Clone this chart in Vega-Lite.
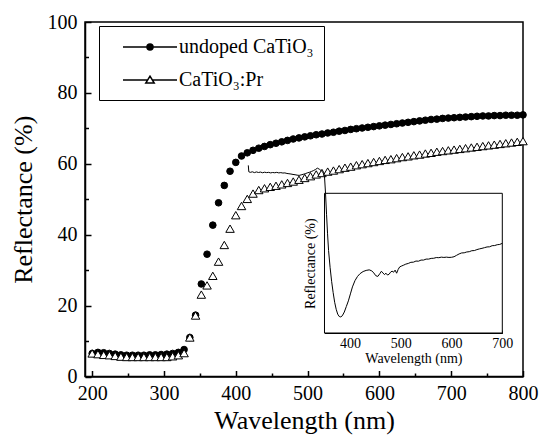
{
  "$schema": "https://vega.github.io/schema/vega-lite/v6.json",
  "width": 438,
  "height": 354.5,
  "autosize": {"type": "none"},
  "padding": {"left": 85, "top": 22, "right": 18, "bottom": 60.5},
  "config": {
    "view": {"stroke": "black", "strokeWidth": 1.5}
  },
  "datasets": {
    "main": [
      {"w":200,"r":6.5,"s":"undoped CaTiO₃"},{"w":208,"r":6.8,"s":"undoped CaTiO₃"},{"w":216,"r":6.7,"s":"undoped CaTiO₃"},{"w":224,"r":6.5,"s":"undoped CaTiO₃"},{"w":232,"r":6.3,"s":"undoped CaTiO₃"},{"w":240,"r":6.1,"s":"undoped CaTiO₃"},{"w":248,"r":6.0,"s":"undoped CaTiO₃"},{"w":256,"r":6.0,"s":"undoped CaTiO₃"},{"w":264,"r":6.0,"s":"undoped CaTiO₃"},{"w":272,"r":6.0,"s":"undoped CaTiO₃"},{"w":280,"r":6.1,"s":"undoped CaTiO₃"},{"w":288,"r":6.1,"s":"undoped CaTiO₃"},{"w":296,"r":6.2,"s":"undoped CaTiO₃"},{"w":304,"r":6.3,"s":"undoped CaTiO₃"},{"w":312,"r":6.5,"s":"undoped CaTiO₃"},{"w":320,"r":6.8,"s":"undoped CaTiO₃"},{"w":328,"r":7.6,"s":"undoped CaTiO₃"},{"w":336,"r":11.0,"s":"undoped CaTiO₃"},{"w":344,"r":17.3,"s":"undoped CaTiO₃"},{"w":352,"r":26.1,"s":"undoped CaTiO₃"},{"w":360,"r":34.5,"s":"undoped CaTiO₃"},{"w":368,"r":42.7,"s":"undoped CaTiO₃"},{"w":376,"r":49.0,"s":"undoped CaTiO₃"},{"w":384,"r":53.9,"s":"undoped CaTiO₃"},{"w":392,"r":57.9,"s":"undoped CaTiO₃"},{"w":400,"r":60.4,"s":"undoped CaTiO₃"},{"w":408,"r":62.2,"s":"undoped CaTiO₃"},{"w":416,"r":63.1,"s":"undoped CaTiO₃"},{"w":424,"r":63.8,"s":"undoped CaTiO₃"},{"w":432,"r":64.4,"s":"undoped CaTiO₃"},{"w":440,"r":64.9,"s":"undoped CaTiO₃"},{"w":448,"r":65.4,"s":"undoped CaTiO₃"},{"w":456,"r":65.8,"s":"undoped CaTiO₃"},{"w":464,"r":66.2,"s":"undoped CaTiO₃"},{"w":472,"r":66.6,"s":"undoped CaTiO₃"},{"w":480,"r":67.0,"s":"undoped CaTiO₃"},{"w":488,"r":67.3,"s":"undoped CaTiO₃"},{"w":496,"r":67.6,"s":"undoped CaTiO₃"},{"w":504,"r":67.9,"s":"undoped CaTiO₃"},{"w":512,"r":68.2,"s":"undoped CaTiO₃"},{"w":520,"r":68.4,"s":"undoped CaTiO₃"},{"w":528,"r":68.7,"s":"undoped CaTiO₃"},{"w":536,"r":68.9,"s":"undoped CaTiO₃"},{"w":544,"r":69.2,"s":"undoped CaTiO₃"},{"w":552,"r":69.4,"s":"undoped CaTiO₃"},{"w":560,"r":69.7,"s":"undoped CaTiO₃"},{"w":568,"r":69.9,"s":"undoped CaTiO₃"},{"w":576,"r":70.1,"s":"undoped CaTiO₃"},{"w":584,"r":70.3,"s":"undoped CaTiO₃"},{"w":592,"r":70.5,"s":"undoped CaTiO₃"},{"w":600,"r":70.7,"s":"undoped CaTiO₃"},{"w":608,"r":70.9,"s":"undoped CaTiO₃"},{"w":616,"r":71.1,"s":"undoped CaTiO₃"},{"w":624,"r":71.3,"s":"undoped CaTiO₃"},{"w":632,"r":71.5,"s":"undoped CaTiO₃"},{"w":640,"r":71.7,"s":"undoped CaTiO₃"},{"w":648,"r":71.9,"s":"undoped CaTiO₃"},{"w":656,"r":72.1,"s":"undoped CaTiO₃"},{"w":664,"r":72.3,"s":"undoped CaTiO₃"},{"w":672,"r":72.5,"s":"undoped CaTiO₃"},{"w":680,"r":72.6,"s":"undoped CaTiO₃"},{"w":688,"r":72.8,"s":"undoped CaTiO₃"},{"w":696,"r":72.9,"s":"undoped CaTiO₃"},{"w":704,"r":73.0,"s":"undoped CaTiO₃"},{"w":712,"r":73.1,"s":"undoped CaTiO₃"},{"w":720,"r":73.2,"s":"undoped CaTiO₃"},{"w":728,"r":73.3,"s":"undoped CaTiO₃"},{"w":736,"r":73.4,"s":"undoped CaTiO₃"},{"w":744,"r":73.5,"s":"undoped CaTiO₃"},{"w":752,"r":73.5,"s":"undoped CaTiO₃"},{"w":760,"r":73.6,"s":"undoped CaTiO₃"},{"w":768,"r":73.6,"s":"undoped CaTiO₃"},{"w":776,"r":73.7,"s":"undoped CaTiO₃"},{"w":784,"r":73.7,"s":"undoped CaTiO₃"},{"w":792,"r":73.7,"s":"undoped CaTiO₃"},{"w":800,"r":73.8,"s":"undoped CaTiO₃"},
      {"w":200,"r":6.5,"s":"CaTiO₃:Pr"},{"w":208,"r":6.3,"s":"CaTiO₃:Pr"},{"w":216,"r":6.1,"s":"CaTiO₃:Pr"},{"w":224,"r":6.0,"s":"CaTiO₃:Pr"},{"w":232,"r":5.8,"s":"CaTiO₃:Pr"},{"w":240,"r":5.6,"s":"CaTiO₃:Pr"},{"w":248,"r":5.5,"s":"CaTiO₃:Pr"},{"w":256,"r":5.5,"s":"CaTiO₃:Pr"},{"w":264,"r":5.5,"s":"CaTiO₃:Pr"},{"w":272,"r":5.5,"s":"CaTiO₃:Pr"},{"w":280,"r":5.5,"s":"CaTiO₃:Pr"},{"w":288,"r":5.5,"s":"CaTiO₃:Pr"},{"w":296,"r":5.5,"s":"CaTiO₃:Pr"},{"w":304,"r":5.5,"s":"CaTiO₃:Pr"},{"w":312,"r":5.7,"s":"CaTiO₃:Pr"},{"w":320,"r":6.0,"s":"CaTiO₃:Pr"},{"w":328,"r":6.6,"s":"CaTiO₃:Pr"},{"w":336,"r":11.0,"s":"CaTiO₃:Pr"},{"w":344,"r":17.2,"s":"CaTiO₃:Pr"},{"w":352,"r":23.1,"s":"CaTiO₃:Pr"},{"w":360,"r":25.7,"s":"CaTiO₃:Pr"},{"w":368,"r":28.4,"s":"CaTiO₃:Pr"},{"w":376,"r":32.4,"s":"CaTiO₃:Pr"},{"w":384,"r":37.1,"s":"CaTiO₃:Pr"},{"w":392,"r":41.7,"s":"CaTiO₃:Pr"},{"w":400,"r":45.5,"s":"CaTiO₃:Pr"},{"w":408,"r":48.1,"s":"CaTiO₃:Pr"},{"w":416,"r":50.1,"s":"CaTiO₃:Pr"},{"w":424,"r":51.6,"s":"CaTiO₃:Pr"},{"w":432,"r":52.6,"s":"CaTiO₃:Pr"},{"w":440,"r":53.1,"s":"CaTiO₃:Pr"},{"w":448,"r":53.5,"s":"CaTiO₃:Pr"},{"w":456,"r":53.8,"s":"CaTiO₃:Pr"},{"w":464,"r":54.2,"s":"CaTiO₃:Pr"},{"w":472,"r":54.6,"s":"CaTiO₃:Pr"},{"w":480,"r":55.0,"s":"CaTiO₃:Pr"},{"w":488,"r":55.5,"s":"CaTiO₃:Pr"},{"w":496,"r":56.0,"s":"CaTiO₃:Pr"},{"w":504,"r":56.5,"s":"CaTiO₃:Pr"},{"w":512,"r":57.0,"s":"CaTiO₃:Pr"},{"w":520,"r":57.4,"s":"CaTiO₃:Pr"},{"w":528,"r":57.8,"s":"CaTiO₃:Pr"},{"w":536,"r":58.1,"s":"CaTiO₃:Pr"},{"w":544,"r":58.5,"s":"CaTiO₃:Pr"},{"w":552,"r":58.9,"s":"CaTiO₃:Pr"},{"w":560,"r":59.2,"s":"CaTiO₃:Pr"},{"w":568,"r":59.6,"s":"CaTiO₃:Pr"},{"w":576,"r":59.9,"s":"CaTiO₃:Pr"},{"w":584,"r":60.2,"s":"CaTiO₃:Pr"},{"w":592,"r":60.5,"s":"CaTiO₃:Pr"},{"w":600,"r":60.8,"s":"CaTiO₃:Pr"},{"w":608,"r":61.1,"s":"CaTiO₃:Pr"},{"w":616,"r":61.3,"s":"CaTiO₃:Pr"},{"w":624,"r":61.6,"s":"CaTiO₃:Pr"},{"w":632,"r":61.9,"s":"CaTiO₃:Pr"},{"w":640,"r":62.1,"s":"CaTiO₃:Pr"},{"w":648,"r":62.4,"s":"CaTiO₃:Pr"},{"w":656,"r":62.6,"s":"CaTiO₃:Pr"},{"w":664,"r":62.9,"s":"CaTiO₃:Pr"},{"w":672,"r":63.1,"s":"CaTiO₃:Pr"},{"w":680,"r":63.4,"s":"CaTiO₃:Pr"},{"w":688,"r":63.6,"s":"CaTiO₃:Pr"},{"w":696,"r":63.8,"s":"CaTiO₃:Pr"},{"w":704,"r":64.0,"s":"CaTiO₃:Pr"},{"w":712,"r":64.2,"s":"CaTiO₃:Pr"},{"w":720,"r":64.4,"s":"CaTiO₃:Pr"},{"w":728,"r":64.6,"s":"CaTiO₃:Pr"},{"w":736,"r":64.8,"s":"CaTiO₃:Pr"},{"w":744,"r":65.0,"s":"CaTiO₃:Pr"},{"w":752,"r":65.2,"s":"CaTiO₃:Pr"},{"w":760,"r":65.4,"s":"CaTiO₃:Pr"},{"w":768,"r":65.6,"s":"CaTiO₃:Pr"},{"w":776,"r":65.8,"s":"CaTiO₃:Pr"},{"w":784,"r":66.0,"s":"CaTiO₃:Pr"},{"w":792,"r":66.2,"s":"CaTiO₃:Pr"},{"w":800,"r":66.4,"s":"CaTiO₃:Pr"}
    ],
    "inset": [
      {"w":200,"v":120},{"w":201,"v":115.4},{"w":204,"v":115.0},{"w":208,"v":115.4},{"w":212,"v":114.8},{"w":216,"v":115.3},{"w":220,"v":114.9},{"w":224,"v":115.2},{"w":228,"v":114.7},{"w":232,"v":115.1},{"w":236,"v":114.8},{"w":240,"v":115.0},{"w":244,"v":114.6},{"w":248,"v":114.9},{"w":252,"v":114.7},{"w":256,"v":115.0},{"w":260,"v":114.6},{"w":264,"v":114.8},{"w":268,"v":114.5},{"w":272,"v":114.6},{"w":276,"v":114.2},{"w":280,"v":114.0},{"w":284,"v":113.8},{"w":288,"v":113.5},{"w":292,"v":113.3},{"w":296,"v":113.0},{"w":300,"v":112.8},{"w":304,"v":113.2},{"w":308,"v":113.6},{"w":312,"v":114.0},{"w":316,"v":114.6},{"w":320,"v":115.0},{"w":324,"v":115.6},{"w":328,"v":116.2},{"w":332,"v":117.0},{"w":336,"v":118.0},{"w":340,"v":117.2},{"w":344,"v":116.0},{"w":347,"v":115.0},{"w":350,"v":112.0},{"w":352,"v":100},{"w":354,"v":85},{"w":356,"v":71},{"w":358,"v":59},{"w":361,"v":47},{"w":364,"v":37},{"w":367,"v":29},{"w":370,"v":22},{"w":373,"v":17},{"w":376,"v":13.5},{"w":379,"v":11.8},{"w":382,"v":11.5},{"w":385,"v":12.3},{"w":389,"v":15},{"w":393,"v":19},{"w":397,"v":23},{"w":401,"v":28},{"w":405,"v":33},{"w":410,"v":37.5},{"w":415,"v":40.5},{"w":420,"v":42.5},{"w":426,"v":44},{"w":432,"v":44.8},{"w":438,"v":45.2},{"w":443,"v":44.5},{"w":447,"v":43},{"w":451,"v":41},{"w":455,"v":40.5},{"w":459,"v":42.5},{"w":462,"v":44.2},{"w":465,"v":43},{"w":468,"v":41.8},{"w":471,"v":42.8},{"w":474,"v":41.5},{"w":477,"v":42},{"w":480,"v":43.5},{"w":483,"v":44.3},{"w":486,"v":43.5},{"w":489,"v":45},{"w":492,"v":42.8},{"w":495,"v":45.5},{"w":498,"v":47.3},{"w":502,"v":48},{"w":506,"v":48.6},{"w":510,"v":49.3},{"w":515,"v":49.8},{"w":520,"v":50.6},{"w":525,"v":50.7},{"w":530,"v":51.5},{"w":535,"v":51.4},{"w":540,"v":52.2},{"w":545,"v":52.2},{"w":550,"v":52.9},{"w":555,"v":52.9},{"w":560,"v":53.4},{"w":565,"v":53.5},{"w":570,"v":54.0},{"w":575,"v":53.9},{"w":580,"v":54.3},{"w":585,"v":54.1},{"w":590,"v":54.3},{"w":595,"v":54.1},{"w":600,"v":54.2},{"w":605,"v":54.6},{"w":610,"v":55.6},{"w":615,"v":56.6},{"w":620,"v":57.3},{"w":625,"v":57.4},{"w":630,"v":58.0},{"w":635,"v":58.2},{"w":640,"v":58.9},{"w":645,"v":59.0},{"w":650,"v":59.7},{"w":655,"v":60.2},{"w":660,"v":60.6},{"w":665,"v":61.1},{"w":670,"v":61.6},{"w":675,"v":61.7},{"w":680,"v":62.5},{"w":685,"v":62.6},{"w":690,"v":63.2},{"w":695,"v":63.4},{"w":700,"v":64.2}
    ]
  },
  "layer": [
    {
      "data": {"name": "main"},
      "mark": {"type": "point", "filled": true, "stroke": "black", "strokeWidth": 1, "opacity": 1},
      "encoding": {
        "x": {"field": "w", "type": "quantitative", "scale": {"domain": [190, 800], "nice": false, "zero": false},
          "axis": {"orient": "bottom", "title": "Wavelength (nm)", "labelFont": "Liberation Serif", "titleFont": "Liberation Serif", "titleFontWeight": "normal", "labelColor": "black", "titleColor": "black", "domainColor": "black", "tickColor": "black", "grid": false, "labelFlush": false, "labelOverlap": false, "values": [200,300,400,500,600,700,800], "tickSize": -6, "tickWidth": 1.5, "domainWidth": 1.5, "labelFontSize": 20, "titleFontSize": 26, "labelPadding": 12.5, "titlePadding": 4}},
        "y": {"field": "r", "type": "quantitative", "scale": {"domain": [0, 100], "nice": false, "zero": false},
          "axis": {"orient": "left", "title": "Reflectance (%)", "labelFont": "Liberation Serif", "titleFont": "Liberation Serif", "titleFontWeight": "normal", "labelColor": "black", "titleColor": "black", "domainColor": "black", "tickColor": "black", "grid": false, "labelFlush": false, "labelOverlap": false, "values": [0,20,40,60,80,100], "tickSize": -6, "tickWidth": 1.5, "domainWidth": 1.5, "labelFontSize": 20, "titleFontSize": 26, "labelPadding": 14, "titlePadding": 11}},
        "shape": {"field": "s", "type": "nominal", "scale": {"domain": ["undoped CaTiO₃", "CaTiO₃:Pr"], "range": ["circle", "triangle-up"]}, "legend": null},
        "fill": {"field": "s", "type": "nominal", "scale": {"domain": ["undoped CaTiO₃", "CaTiO₃:Pr"], "range": ["black", "white"]}, "legend": null},
        "size": {"field": "s", "type": "ordinal", "scale": {"domain": ["undoped CaTiO₃", "CaTiO₃:Pr"], "range": [44, 72]}, "legend": null}
      }
    },
    {
      "data": {"name": "main"},
      "transform": [{"filter": "false"}],
      "mark": {"type": "point", "filled": true, "strokeWidth": 1.5, "opacity": 1},
      "encoding": {
        "x": {"field": "w", "type": "quantitative", "scale": {"domain": [190, 800], "nice": false, "zero": false},
          "axis": {"orient": "bottom", "title": null, "labels": false, "domain": false, "grid": false, "tickColor": "black", "values": [250,350,450,550,650,750], "tickSize": -3.5, "tickWidth": 1.5}},
        "y": {"field": "r", "type": "quantitative", "scale": {"domain": [0, 100], "nice": false, "zero": false},
          "axis": {"orient": "left", "title": null, "labels": false, "domain": false, "grid": false, "tickColor": "black", "values": [10,30,50,70,90], "tickSize": -3.5, "tickWidth": 1.5}},
        "shape": {"field": "s", "type": "nominal", "scale": {"domain": ["undoped CaTiO₃", "CaTiO₃:Pr"], "range": ["M-2.7,0H-0.3M0.3,0H2.7M0.3,0A0.3,0.3,0,1,1,-0.3,0A0.3,0.3,0,1,1,0.3,0Z", "M-2.7,0H-0.24M0.24,0H2.7M0,-0.38L0.42,0.3L-0.42,0.3Z"]},
          "legend": {"title": null, "orient": "none", "legendX": 14, "legendY": 4, "padding": 10, "strokeColor": "black", "fillColor": "white", "symbolSize": 400, "symbolOffset": 30, "labelOffset": 18, "labelFontSize": 20, "labelFont": "Liberation Serif", "labelColor": "black", "rowPadding": 12, "symbolStrokeWidth": 1.5, "labelLimit": 0}},
        "fill": {"field": "s", "type": "nominal", "scale": {"domain": ["undoped CaTiO₃", "CaTiO₃:Pr"], "range": ["black", "white"]},
          "legend": {"title": null, "orient": "none", "legendX": 14, "legendY": 4, "padding": 10, "strokeColor": "black", "fillColor": "white", "symbolSize": 400, "symbolOffset": 30, "labelOffset": 18, "labelFontSize": 20, "labelFont": "Liberation Serif", "labelColor": "black", "rowPadding": 12, "symbolStrokeWidth": 1.5, "labelLimit": 0}},
        "stroke": {"field": "s", "type": "nominal", "scale": {"domain": ["undoped CaTiO₃", "CaTiO₃:Pr"], "range": ["black", "black"]},
          "legend": {"title": null, "orient": "none", "legendX": 14, "legendY": 4, "padding": 10, "strokeColor": "black", "fillColor": "white", "symbolSize": 400, "symbolOffset": 30, "labelOffset": 18, "labelFontSize": 20, "labelFont": "Liberation Serif", "labelColor": "black", "rowPadding": 12, "symbolStrokeWidth": 1.5, "labelLimit": 0}}
      }
    },
    {
      "data": {"name": "inset"},
      "encoding": {
        "x": {"field": "w", "type": "quantitative", "scale": {"domain": [350, 700], "range": [239.5, 417.3], "nice": false, "zero": false},
          "axis": {"orient": "bottom", "offset": -43.5, "title": "Wavelength (nm)", "labelFont": "Liberation Serif", "titleFont": "Liberation Serif", "titleFontWeight": "normal", "labelColor": "black", "titleColor": "black", "domainColor": "black", "tickColor": "black", "grid": false, "labelFlush": false, "labelOverlap": false, "values": [400,450,500,550,600,650,700], "labelExpr": "datum.value % 100 == 0 ? datum.label : ''", "tickSize": -3, "tickWidth": 1, "domainWidth": 1, "labelFontSize": 14, "titleFontSize": 14, "labelPadding": 6, "titlePadding": 1}},
        "y": {"field": "v", "type": "quantitative", "scale": {"domain": [0, 100], "range": [311, 171.3], "nice": false, "zero": false},
          "axis": {"orient": "left", "offset": -239.5, "title": "Reflectance (%)", "labelFont": "Liberation Serif", "titleFont": "Liberation Serif", "titleFontWeight": "normal", "titleColor": "black", "domainColor": "black", "tickColor": "black", "grid": false, "labels": false, "values": [0,6.25,12.5,18.75,25,31.25,37.5,43.75,50,56.25,62.5,68.75,75,81.25,87.5,93.75,100], "tickSize": -3, "tickWidth": 1, "domainWidth": 1, "titleFontSize": 14, "titlePadding": 7}}
      },
      "layer": [
        {
          "data": {"values": [{"w": 350, "w2": 700, "v": 0, "v2": 100}]},
          "mark": {"type": "rect", "fill": "white", "stroke": "black", "strokeWidth": 1},
          "encoding": {"x2": {"field": "w2"}, "y2": {"field": "v2"}}
        },
        {
          "mark": {"type": "line", "color": "black", "strokeWidth": 1},
          "encoding": {}
        }
      ]
    }
  ],
  "resolve": {"scale": {"x": "independent", "y": "independent", "shape": "independent", "fill": "independent", "stroke": "independent", "size": "independent"}, "axis": {"x": "independent", "y": "independent"}}
}
